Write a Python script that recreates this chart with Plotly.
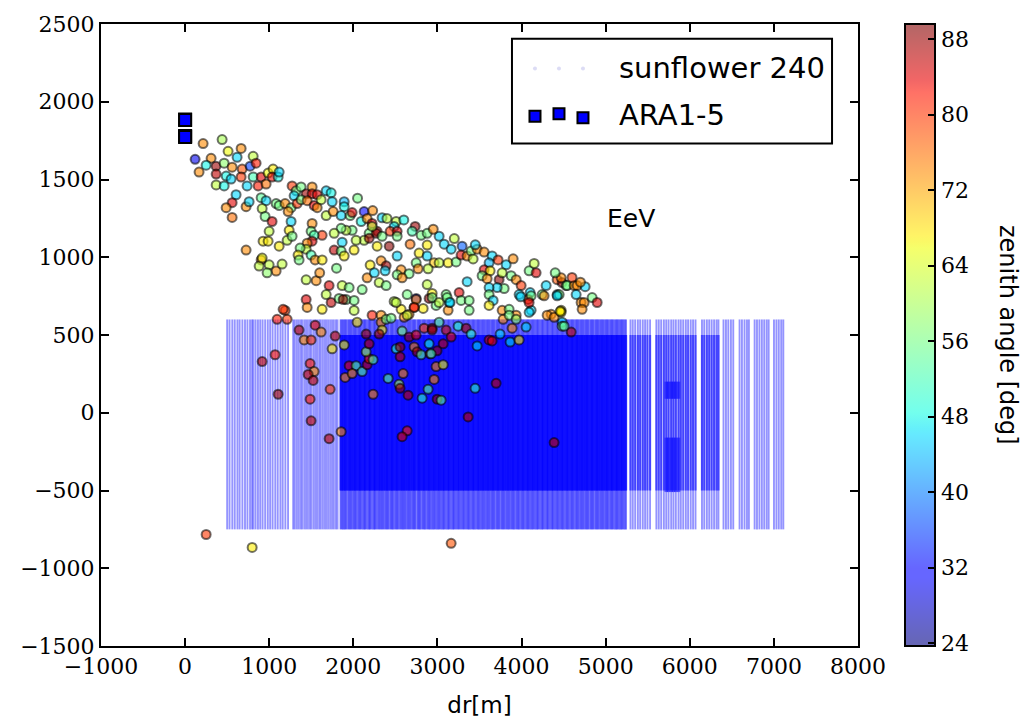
import plotly.graph_objects as go

# ------------------------------------------------------------------ data
x_ticks = [-1000, 0, 1000, 2000, 3000, 4000, 5000, 6000, 7000, 8000]
x_tick_labels = ["\u22121000", "0", "1000", "2000", "3000", "4000", "5000", "6000", "7000", "8000"]
y_ticks = [-1500, -1000, -500, 0, 500, 1000, 1500, 2000, 2500]
y_tick_labels = ["\u22121500", "\u22121000", "\u2212500", "0", "500", "1000", "1500", "2000", "2500"]
cbar_ticks = [24, 32, 40, 48, 56, 64, 72, 80, 88]
zen_min, zen_max = 23.7, 89.6

# ARA stations
ara_dr = [0, 0, 0, 0, 0]
ara_z = [1886, 1882, 1780, 1777, 1774]

# sunflower 240 stations: radial distance of each antenna string
sunflower_dr = [
    500, 528, 561, 590, 622, 648, 681, 712, 741, 772, 796, 812, 838, 866, 893, 921, 952, 983,
    1011, 1040, 1072, 1101, 1133, 1160, 1192, 1224,
    1285, 1303, 1327, 1349, 1372, 1391, 1416, 1438, 1460, 1483, 1502, 1527, 1549, 1570, 1594,
    1613, 1637, 1660, 1681, 1703, 1726, 1748, 1769, 1793, 1812,
    1855, 1884, 1912, 1945, 1973, 2004, 2031, 2063, 2090, 2122, 2148, 2181, 2207, 2240, 2266,
    2298, 2327, 2355, 2386, 2413, 2445, 2471, 2503, 2530, 2562, 2590, 2618, 2649, 2677, 2708,
    2734, 2767, 2793, 2825, 2852, 2884, 2911, 2942, 2970, 3001, 3029, 3060, 3087, 3119, 3146,
    3178, 3205, 3236, 3264, 3295, 3323, 3354, 3381, 3413, 3440, 3472, 3499, 3530, 3558, 3589,
    3617, 3648, 3675, 3707, 3734, 3766, 3793, 3824, 3852, 3883, 3910, 3942, 3969, 4001, 4028,
    4060, 4087, 4118, 4146, 4177, 4204, 4236, 4263, 4295, 4322, 4354, 4381, 4412, 4440, 4471,
    4498, 4530, 4557, 4589, 4616, 4648, 4675, 4706, 4734, 4765, 4792, 4824, 4851, 4883, 4910,
    4941, 4969, 5000, 5027, 5059, 5086, 5118, 5145, 5176, 5204, 5235,
    5295, 5322, 5351, 5383, 5410, 5441, 5469, 5497, 5528, 5603, 5631, 5660, 5692, 5720, 5748,
    5779, 5806, 5834, 5866, 5893, 5922, 5953, 5980, 6011, 6039, 6068, 6145, 6172, 6203, 6231,
    6260, 6289, 6318, 6341, 6401, 6430, 6458, 6489, 6517, 6592, 6620, 6651, 6680, 6703, 6771,
    6799, 6828, 6857, 6885, 6914, 6938, 7001, 7030, 7058, 7087, 7112,
]
sunflower_full_depth = [-750, 600]
sunflower_core_depth = [-500, 500]
sunflower_dense_range = [1840, 5260]
sunflower_core_range = [1840, 6360]
sunflower_extra_range = [5700, 5880]
sunflower_extra_depths = [[90, 200], [-510, -160]]

# simulated events: dr [m], z [m], zenith angle [deg]
event_dr = [
    440, 214, 511, 666, 119, 309, 250, 368, 166, 464,
    559, 618, 809, 369, 488, 678, 773, 844, 809, 547,
    369, 464, 666, 737, 904, 868, 963, 987, 1046, 1034,
    1106, 1118,
    606, 559, 488, 559, 725, 761, 904, 963, 916, 951,
    1034, 999, 927, 987, 725, 904, 1118, 1260, 1272, 1320,
    1379, 1439, 1510, 1510, 1570, 1677, 1736, 1296, 1082, 1118,
    1189, 1260, 1225, 1332, 1379, 1451, 1534, 1617, 1570, 1748,
    1677, 1760, 1891, 1891, 1855, 1962, 1986, 2128, 2093, 2164,
    2223, 2283, 2188, 2128, 2033, 1986, 1914, 1855, 1772, 1867,
    1772, 1855, 1891, 2009, 1629, 1510, 1498, 1534, 1510, 1451,
    1439, 1498, 1367, 1343, 1355, 1546, 1629, 1237, 1213, 1272,
    880, 999, 916, 1082, 1153, 975,
    2342, 2271, 2223, 2188, 2342, 2283, 2426, 2509, 2485, 2438,
    2521, 2521, 2735, 2699, 2806, 2878, 2675, 2330, 2390, 2378,
    2521, 2568, 2663, 2782, 2878, 2878, 2961, 3020, 2747, 2770,
    2889, 3020, 3080, 3163, 3127, 3222, 3293, 3281, 3353, 3400,
    3424, 3472, 3555, 3650, 3721, 3817, 3614, 3555, 3626, 3531,
    3591, 3733, 3769, 3876, 3936, 3995, 3793, 3710, 3614, 3614,
    3662, 3614, 3353, 3258, 3281, 3377, 3377, 3103, 3139, 3127,
    2937, 2901, 2984, 2830, 2723, 2747, 2640, 2485, 2568, 2663,
    4090, 4173, 4102, 4078, 4245, 4292, 4423, 4482, 4530, 4423,
    3971, 4114, 3769, 3852, 3936, 4471, 4352,
    4471, 4542, 4625, 4661, 4756, 4447, 4649, 4708, 4744, 4839,
    4899, 4720, 4471, 4482, 4482, 4590,
    1558, 1712, 1677, 1439, 1451, 1189, 1094, 1213, 1629, 1736,
    1867, 1950, 1914, 2009, 2045, 2164, 2105, 2307, 2390, 2509,
    2521, 2580, 2747, 2878, 2937, 3020,
    1165, 1831, 1879, 2009, 1355, 1546, 1617, 1415, 1498, 1784,
    1891, 1748, 1070, 916, 1486, 1534, 1463, 1522, 1724, 1106,
    1486, 1903, 1950, 2033, 1986, 2105, 2164, 2188, 2235, 2152,
    2188, 2152, 2223, 2330, 2330, 2342, 2307, 2390, 2449, 2604,
    2640, 2723, 2580, 2663, 2747, 2842, 2937, 2509, 2556, 2556,
    2723, 2758, 2806, 2901, 2913, 2984, 2961, 2592, 2414, 2544,
    2556, 2651, 2818, 2889, 2996, 2235, 2640, 2580, 1855, 1712,
    1498, 2937, 3020, 3103, 3163, 3068, 2996, 2925, 3068, 3044,
    3246, 3341, 3400, 3472, 3614, 3650, 3448, 3698, 3365, 3745,
    3864, 3971, 3888, 4054, 3781, 3852, 3936, 4304, 4387, 4459,
    4506, 4387, 250, 797, 3163,
    3115, 3150, 3990, 4114, 4090, 4268, 4423, 4090, 2050, 2230,
    2400, 2600, 2950, 3200, 3450, 3900, 4150, 4400, 4600, 4700,
    1439, 1600, 1800, 2200, 2250,
]
event_z = [
    1757, 1731, 1681, 1700, 1630, 1636, 1592, 1586, 1548, 1605,
    1579, 1643, 1649, 1535, 1522, 1567, 1586, 1605, 1516, 1503,
    1465, 1459, 1516, 1459, 1516, 1459, 1471, 1541, 1567, 1516,
    1516, 1548,
    1402, 1351, 1319, 1256, 1325, 1357, 1383, 1364, 1313, 1262,
    1230, 1167, 1103, 1103, 1046, 983, 1071, 1230, 1459, 1427,
    1452, 1408, 1452, 1408, 1402, 1427, 1414, 1395, 1345, 1332,
    1345, 1319, 1294, 1345, 1370, 1364, 1332, 1370, 1319, 1357,
    1268, 1294, 1357, 1325, 1268, 1268, 1287, 1294, 1230, 1249,
    1217, 1167, 1154, 1109, 1109, 1173, 1173, 1186, 1154, 1097,
    1046, 1040, 1008, 1046, 1141, 1217, 1167, 1141, 1103, 1090,
    1052, 1014, 1059, 1014, 983, 983, 983, 1173, 1109, 1135,
    943, 951, 995, 911, 956, 900,
    1254, 1154, 1198, 1122, 1135, 1071, 1071, 1230, 1198, 1167,
    1167, 1135, 1198, 1167, 1141, 1154, 1084, 977, 945, 913,
    1008, 919, 894, 1027, 1008, 1078, 964, 964, 964, 926,
    926, 1135, 1084, 1052, 964, 970, 1071, 1014, 1008, 1040,
    989, 1052, 1033, 1008, 983, 951, 964, 919, 913, 881,
    862, 856, 900, 881, 856, 818, 799, 805, 805, 760,
    722, 690, 843, 773, 722, 722, 659, 760, 709, 659,
    767, 735, 690, 671, 678, 735, 760, 716, 665, 633,
    913, 900, 773, 729, 760, 818, 856, 837, 818, 760,
    760, 659, 659, 665, 627, 659, 633,
    868, 818, 818, 818, 811, 760, 760, 709, 709, 741,
    709, 665, 646, 582, 557, 519,
    849, 818, 760, 728, 677, 658, 601, 601, 665, 709,
    818, 805, 728, 658, 582, 868, 792, 837, 818, 709,
    887, 868, 728, 824, 741, 709,
    665, 735, 728, 722, 532, 563, 519, 468, 468, 493,
    436, 411, 373, 329, 316, 265, 246, 208, 151, 119,
    87, 227, 303, 303, 252, 265, 309, 348, 341, 392,
    443, 506, 627, 627, 582, 532, 506, 601, 608, 614,
    627, 677, 525, 487, 500, 544, 544, 411, 423, 360,
    423, 392, 373, 443, 379, 297, 214, 252, 221, 183,
    157, 113, 94, 151, 87, 119, -116, -154, -122, -167,
    -52, 532, 582, 532, 487, 443, 398, 379, 309, 81,
    557, 544, 506, 430, 468, 462, 157, 189, -27, 506,
    455, 468, 544, 551, 601, 627, 601, 627, 614, 652,
    557, -192, -783, -866, -840,
    741, 709, 746, 752, 709, 752, 752, 646, 1380, 1300,
    1250, 1240, 1180, 1120, 1080, 990, 960, 900, 870, 840,
    855, 900, 930, 950, 900,
]
event_zenith = [
    60, 74, 66, 74, 30, 74, 48, 88, 74, 58,
    74, 46, 62, 86, 48, 78, 36, 82, 52, 46,
    62, 48, 80, 46, 84, 82, 76, 66, 67, 83,
    48, 46,
    46, 84, 74, 76, 74, 46, 54, 46, 62, 56,
    84, 62, 67, 67, 74, 76, 67, 46, 80, 56,
    56, 88, 74, 84, 84, 46, 48, 46, 56, 56,
    74, 56, 74, 80, 56, 76, 84, 62, 74, 46,
    62, 74, 44, 48, 46, 56, 84, 32, 48, 74,
    84, 88, 56, 62, 62, 56, 62, 56, 62, 46,
    86, 56, 67, 67, 80, 74, 56, 52, 84, 74,
    62, 52, 56, 67, 56, 74, 67, 67, 62, 56,
    62, 62, 66, 74, 62, 58,
    46, 88, 62, 88, 56, 67, 89, 62, 46, 80,
    84, 56, 88, 52, 56, 56, 76, 74, 88, 46,
    46, 74, 56, 67, 46, 67, 70, 62, 56, 74,
    62, 46, 46, 46, 67, 56, 38, 84, 74, 56,
    62, 74, 74, 46, 80, 46, 44, 84, 67, 56,
    74, 89, 62, 56, 74, 80, 56, 46, 46, 56,
    46, 67, 46, 84, 56, 56, 56, 56, 46, 74,
    67, 88, 56, 67, 84, 30, 56, 62, 67, 74,
    56, 84, 46, 80, 56, 46, 78, 88, 56, 46,
    46, 46, 74, 56, 74, 67, 74,
    74, 56, 74, 74, 46, 56, 46, 74, 74, 56,
    84, 74, 67, 46, 56, 86,
    74, 84, 62, 84, 74, 80, 82, 80, 67, 86,
    62, 56, 56, 62, 67, 74, 56, 62, 56, 62,
    56, 74, 74, 62, 56, 62,
    80, 56, 88, 56, 86, 84, 74, 74, 80, 86,
    66, 67, 82, 86, 82, 74, 86, 86, 80, 88,
    82, 74, 84, 54, 74, 54, 86, 82, 54, 60,
    86, 88, 82, 74, 74, 67, 88, 56, 56, 74,
    62, 80, 56, 88, 84, 80, 88, 50, 88, 86,
    74, 88, 54, 48, 80, 74, 74, 74, 54, 60,
    88, 86, 50, 54, 88, 74, 82, 84, 74, 86,
    86, 88, 54, 86, 84, 86, 88, 50, 66, 54,
    50, 88, 50, 46, 84, 84, 50, 86, 86, 46,
    46, 67, 74, 46, 74, 56, 58, 74, 74, 67,
    54, 86, 80, 67, 78,
    56, 46, 46, 56, 84, 74, 46, 46, 56, 74,
    62, 48, 74, 62, 46, 74, 62, 56, 80, 74,
    62, 74, 56, 67, 46,
]
assert len(event_dr) == len(event_z) == len(event_zenith), (len(event_dr), len(event_z), len(event_zenith))

# ------------------------------------------------------------------ styling helpers
ALPHA = 0.6
jet_stops = [
    (0.0, (0, 0, 128)), (0.11, (0, 0, 255)), (0.125, (0, 0, 255)), (0.34, (0, 219, 255)),
    (0.35, (0, 230, 247)), (0.375, (21, 255, 226)), (0.64, (239, 255, 8)), (0.65, (247, 245, 0)),
    (0.66, (255, 236, 0)), (0.89, (255, 19, 0)), (0.91, (232, 0, 0)), (1.0, (128, 0, 0)),
]
jet_alpha = [[f, f"rgba({r},{g},{b},{ALPHA})"] for f, (r, g, b) in jet_stops]


def columns(drs, lo, hi, dr_range=None):
    xs, ys = [], []
    for d in drs:
        if dr_range is not None and not (dr_range[0] <= d <= dr_range[1]):
            continue
        xs += [d, d, None]
        ys += [lo, hi, None]
    return xs, ys


fig = go.Figure()

sf_layers = [
    (None, sunflower_full_depth, 0.42, 1.9),
    (sunflower_dense_range, sunflower_full_depth, 0.42, 3.2),
    (sunflower_core_range, sunflower_core_depth, 0.55, 2.2),
    (sunflower_dense_range, sunflower_core_depth, 0.6, 3.5),
]
for rng, dep, a, w in sf_layers:
    xs, ys = columns(sunflower_dr, dep[0], dep[1], rng)
    fig.add_trace(go.Scatter(x=xs, y=ys, mode="lines", showlegend=False, hoverinfo="skip",
                             line=dict(color=f"rgba(0,0,255,{a})", width=w)))
for dep in sunflower_extra_depths:
    xs, ys = columns(sunflower_dr, dep[0], dep[1], sunflower_extra_range)
    fig.add_trace(go.Scatter(x=xs, y=ys, mode="lines", showlegend=False, hoverinfo="skip",
                             line=dict(color="rgba(0,0,255,0.5)", width=3.5)))

fig.add_trace(go.Scatter(
    x=event_dr, y=event_z, mode="markers", showlegend=False,
    marker=dict(
        size=9, color=event_zenith, colorscale=jet_alpha, cmin=zen_min, cmax=zen_max,
        line=dict(color="rgba(0,0,0,0.55)", width=2),
        showscale=True,
        colorbar=dict(
            x=(905 - 101) / 757, xanchor="left", xpad=0, y=0.5, yanchor="middle",
            len=1, lenmode="fraction", ypad=0, thickness=30,
            outlinewidth=2, outlinecolor="black",
            tickvals=cbar_ticks, ticks="inside", ticklen=8, tickwidth=1.5, tickcolor="black",
            tickfont=dict(family="DejaVu Serif", size=22, color="black"),
        ),
    ),
))

fig.add_trace(go.Scatter(
    x=ara_dr, y=ara_z, mode="markers", showlegend=False,
    marker=dict(symbol="square", size=12, color="rgb(0,0,255)", line=dict(color="black", width=2)),
))

# ---- custom legend (drawn on a hidden 0..1 overlay axis)
fig.add_trace(go.Scatter(
    x=[0.5733, 0.605, 0.6367], y=[0.9286, 0.9286, 0.9286], xaxis="x2", yaxis="y2",
    mode="markers", showlegend=False, hoverinfo="skip",
    marker=dict(size=4, color="rgba(60,60,200,0.18)", line=dict(width=0)),
))
fig.add_trace(go.Scatter(
    x=[0.5733, 0.605, 0.6367], y=[0.8516, 0.8556, 0.8492], xaxis="x2", yaxis="y2",
    mode="markers", showlegend=False, hoverinfo="skip",
    marker=dict(symbol="square", size=11, color="rgb(0,0,255)", line=dict(color="black", width=2)),
))

axis_common = dict(
    showline=True, linecolor="black", linewidth=2, mirror="ticks",
    ticks="inside", ticklen=8, tickwidth=1.5, tickcolor="black",
    showgrid=False, zeroline=False,
    tickfont=dict(family="DejaVu Serif", size=22, color="black"),
)

fig.update_layout(
    width=1026, height=726,
    margin=dict(l=101, r=168, t=18, b=78),
    paper_bgcolor="white", plot_bgcolor="white",
    xaxis=dict(range=[-1000, 8000], tickvals=x_ticks, ticktext=x_tick_labels,
               title=dict(text="dr[m]", font=dict(family="DejaVu Sans", size=23, color="black"), standoff=18),
               **axis_common),
    yaxis=dict(range=[-1500, 2500], tickvals=y_ticks, ticktext=y_tick_labels, **axis_common),
    xaxis2=dict(overlaying="x", anchor="y2", range=[0, 1], visible=False),
    yaxis2=dict(overlaying="y", anchor="x2", range=[0, 1], visible=False),
    shapes=[dict(type="rect", xref="paper", yref="paper", x0=0.5429, x1=0.9657, y0=0.8079, y1=0.9762,
                 line=dict(color="black", width=2), fillcolor="white", layer="below")],
    annotations=[
        dict(text="sunflower 240", xref="paper", yref="paper", x=0.6816, y=0.930,
             xanchor="left", yanchor="middle", showarrow=False,
             font=dict(family="DejaVu Sans", size=29, color="black")),
        dict(text="ARA1-5", xref="paper", yref="paper", x=0.6816, y=0.853,
             xanchor="left", yanchor="middle", showarrow=False,
             font=dict(family="DejaVu Sans", size=29, color="black")),
        dict(text="EeV", x=5303, y=1249, xref="x", yref="y", showarrow=False,
             font=dict(family="DejaVu Sans", size=25, color="black")),
        dict(text="zenith angle [deg]", xref="paper", yref="paper", x=(1008 - 101) / 757, y=0.5,
             textangle=90, showarrow=False, xanchor="center", yanchor="middle",
             font=dict(family="DejaVu Sans", size=24, color="black")),
    ],
)

fig.write_html("out.html")
